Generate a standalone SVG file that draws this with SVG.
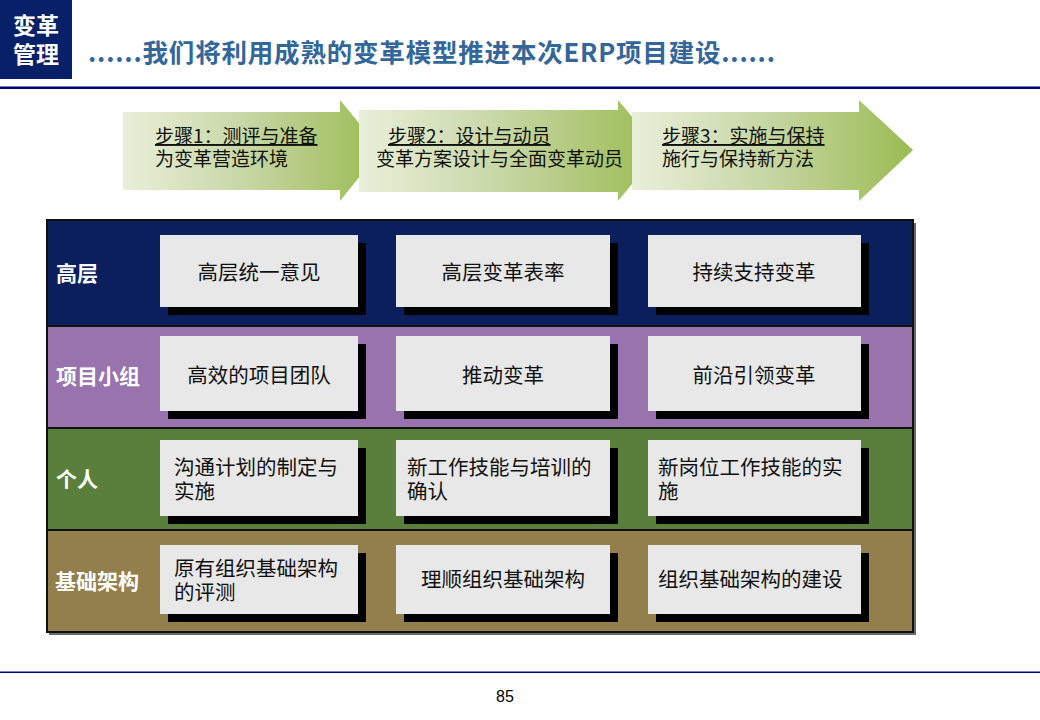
<svg xmlns="http://www.w3.org/2000/svg" width="1040" height="720" viewBox="0 0 1040 720">
<defs>
<linearGradient id="ag" x1="0" y1="0" x2="1" y2="0">
<stop offset="0" stop-color="#E9EFDA"/>
<stop offset="0.45" stop-color="#C9D8A8"/>
<stop offset="1" stop-color="#9BBB52"/>
</linearGradient>
<style>
.cjk{font-family:"Microsoft YaHei","Noto Sans CJK SC","Noto Sans",sans-serif;}
.lbl{fill:#fff;font-weight:bold;font-size:21px;}
.box{fill:#E8E8E8;}
.shd{fill:#000;}
.bt{fill:#111;font-size:20.5px;}
.st{fill:#111;font-size:19px;}
.row{stroke:#111;stroke-width:2;}
</style>
</defs>
<rect width="1040" height="720" fill="#fff"/>
<!-- header -->
<g id="header">
<rect x="0" y="0" width="72" height="79" fill="#082068"/>
<text class="cjk" x="36" y="34" text-anchor="middle" fill="#fff" font-weight="bold" font-size="23">变革</text>
<text class="cjk" x="36" y="63" text-anchor="middle" fill="#fff" font-weight="bold" font-size="23">管理</text>
<text class="cjk" x="88" y="62" fill="#336699" font-weight="bold" font-size="25.5" textLength="687" lengthAdjust="spacing">......我们将利用成熟的变革模型推进本次ERP项目建设......</text>
<rect x="0" y="86.5" width="1040" height="2.5" fill="#000080"/>
</g>
<!-- step arrows -->
<g id="step1">
<polygon points="123,112 340,112 340,100 381,150 340,201 340,190 123,190" fill="url(#ag)"/>
<text class="cjk st" x="155" y="143" text-decoration="underline">步骤1：测评与准备</text>
<text class="cjk st" x="155" y="166">为变革营造环境</text>
</g>
<g id="step2">
<polygon points="359,110 618,110 618,100 660,150 618,201 618,192 359,192" fill="url(#ag)"/>
<text class="cjk st" x="388" y="143" text-decoration="underline">步骤2：设计与动员</text>
<text class="cjk st" x="376" y="166">变革方案设计与全面变革动员</text>
</g>
<g id="step3">
<polygon points="632,112 859,112 859,100 913,150 859,201 859,190 632,190" fill="url(#ag)"/>
<text class="cjk st" x="662" y="143" text-decoration="underline">步骤3：实施与保持</text>
<text class="cjk st" x="662" y="166">施行与保持新方法</text>
</g>
<!-- table rows -->
<g id="table">
<rect x="49" y="223" width="867" height="412" fill="#6a6a6a"/>
<rect class="row" x="47" y="220" width="866" height="106" fill="#0A1F5B"/>
<rect class="row" x="47" y="326" width="866" height="102" fill="#9873AD"/>
<rect class="row" x="47" y="428" width="866" height="102" fill="#5A7F3D"/>
<rect class="row" x="47" y="530" width="866" height="102" fill="#937F4B"/>
</g>
<g id="labels">
<text class="cjk lbl" x="56" y="281">高层</text>
<text class="cjk lbl" x="56" y="384">项目小组</text>
<text class="cjk lbl" x="56" y="487">个人</text>
<text class="cjk lbl" x="55" y="589">基础架构</text>
</g>
<!-- row 1 -->
<g id="n11"><rect class="shd" x="168" y="243" width="198" height="72"/><rect class="box" x="160" y="235" width="198" height="72"/>
<text class="cjk bt" x="259" y="280" text-anchor="middle">高层统一意见</text></g>
<g id="n12"><rect class="shd" x="404" y="243" width="214" height="72"/><rect class="box" x="396" y="235" width="214" height="72"/>
<text class="cjk bt" x="503" y="280" text-anchor="middle">高层变革表率</text></g>
<g id="n13"><rect class="shd" x="656" y="243" width="213" height="72"/><rect class="box" x="648" y="235" width="213" height="72"/>
<text class="cjk bt" x="754" y="280" text-anchor="middle">持续支持变革</text></g>
<!-- row 2 -->
<g id="n21"><rect class="shd" x="168" y="344" width="198" height="75"/><rect class="box" x="160" y="336" width="198" height="75"/>
<text class="cjk bt" x="259" y="383" text-anchor="middle">高效的项目团队</text></g>
<g id="n22"><rect class="shd" x="404" y="344" width="214" height="75"/><rect class="box" x="396" y="336" width="214" height="75"/>
<text class="cjk bt" x="503" y="383" text-anchor="middle">推动变革</text></g>
<g id="n23"><rect class="shd" x="656" y="344" width="213" height="75"/><rect class="box" x="648" y="336" width="213" height="75"/>
<text class="cjk bt" x="754" y="383" text-anchor="middle">前沿引领变革</text></g>
<!-- row 3 -->
<g id="n31"><rect class="shd" x="168" y="448" width="198" height="76"/><rect class="box" x="160" y="440" width="198" height="76"/>
<text class="cjk bt" x="174" y="475">沟通计划的制定与</text><text class="cjk bt" x="174" y="499">实施</text></g>
<g id="n32"><rect class="shd" x="404" y="448" width="214" height="76"/><rect class="box" x="396" y="440" width="214" height="76"/>
<text class="cjk bt" x="407" y="475">新工作技能与培训的</text><text class="cjk bt" x="407" y="499">确认</text></g>
<g id="n33"><rect class="shd" x="656" y="448" width="213" height="76"/><rect class="box" x="648" y="440" width="213" height="76"/>
<text class="cjk bt" x="658" y="475">新岗位工作技能的实</text><text class="cjk bt" x="658" y="499">施</text></g>
<!-- row 4 -->
<g id="n41"><rect class="shd" x="168" y="553" width="198" height="69"/><rect class="box" x="160" y="545" width="198" height="69"/>
<text class="cjk bt" x="174" y="576">原有组织基础架构</text><text class="cjk bt" x="174" y="600">的评测</text></g>
<g id="n42"><rect class="shd" x="404" y="553" width="214" height="69"/><rect class="box" x="396" y="545" width="214" height="69"/>
<text class="cjk bt" x="503" y="587" text-anchor="middle">理顺组织基础架构</text></g>
<g id="n43"><rect class="shd" x="656" y="553" width="213" height="69"/><rect class="box" x="648" y="545" width="213" height="69"/>
<text class="cjk bt" x="658" y="587">组织基础架构的建设</text></g>
<!-- footer -->
<g id="footer">
<rect x="0" y="671.5" width="1040" height="1.5" fill="#000080"/>
<text x="505" y="702" text-anchor="middle" font-family="Liberation Sans, Arial, sans-serif" font-size="16" fill="#000">85</text>
</g>
</svg>
